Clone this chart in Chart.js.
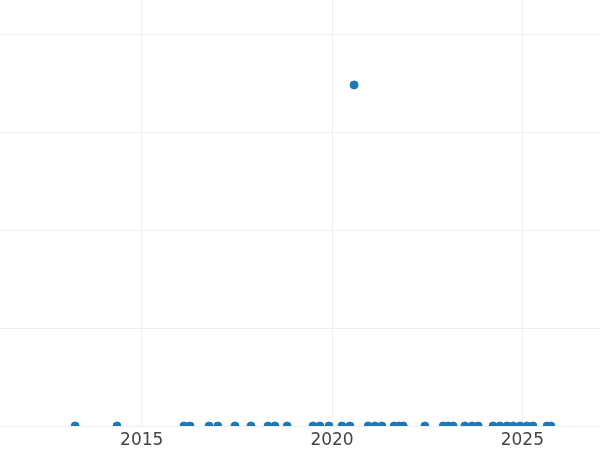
<!DOCTYPE html>
<html>
<head>
<meta charset="utf-8">
<script src="https://cdn.jsdelivr.net/npm/chart.js@4"></script>
<style>
html,body{margin:0;padding:0;background:#fff;}
#wrap{width:600px;height:450px;position:relative;}
</style>
</head>
<body>
<div id="wrap"><canvas id="c"></canvas></div>
<script>
// Decimal-year positions of the events and their values
const eventYears = [2013.25, 2014.35, 2016.11, 2016.27, 2016.77, 2017.00, 2017.45, 2017.87,
  2018.32, 2018.50, 2018.82, 2019.50, 2019.68, 2019.92, 2020.26, 2020.47, 2020.58,
  2020.95, 2021.13, 2021.31, 2021.63, 2021.76, 2021.87, 2022.44, 2022.92, 2023.05,
  2023.18, 2023.49, 2023.68, 2023.84, 2024.23, 2024.41, 2024.60, 2024.76, 2024.94,
  2025.12, 2025.28, 2025.65, 2025.75];
const eventValues = [0, 0, 0, 0, 0, 0, 0, 0,
  0, 0, 0, 0, 0, 0, 0, 0, 3.48,
  0, 0, 0, 0, 0, 0, 0, 0, 0,
  0, 0, 0, 0, 0, 0, 0, 0, 0,
  0, 0, 0, 0];
const xTickYears = [2015, 2020, 2025];
const yTickValues = [0, 1, 2, 3, 4];

const points = eventYears.map((x, i) => ({x: x, y: eventValues[i]}));

new Chart(document.getElementById('c'), {
  type: 'scatter',
  data: {
    datasets: [{
      data: points,
      backgroundColor: '#1f77b4',
      borderColor: '#1f77b4',
      borderWidth: 1,
      pointRadius: 4,
      pointHoverRadius: 4,
      clip: 0
    }]
  },
  options: {
    responsive: true,
    maintainAspectRatio: false,
    animation: false,
    layout: {padding: 0, autoPadding: false},
    plugins: {legend: {display: false}, tooltip: {enabled: false}},
    scales: {
      x: {
        type: 'linear',
        min: 2011.277,
        max: 2027.04,
        afterBuildTicks: s => { s.ticks = xTickYears.map(v => ({value: v})); },
        afterFit: s => { s.height = 24; },
        grid: {color: '#eeeeee', lineWidth: 1, drawTicks: false},
        border: {display: false},
        ticks: {
          padding: 11.5,
          color: '#444444',
          font: {family: 'DejaVu Sans', size: 17, lineHeight: 0.4},
          maxRotation: 0,
          callback: v => String(v)
        }
      },
      y: {
        type: 'linear',
        min: 0,
        max: 4.347,
        afterBuildTicks: s => { s.ticks = yTickValues.map(v => ({value: v})); },
        grid: {color: '#eeeeee', lineWidth: 1, drawTicks: false},
        border: {display: false},
        ticks: {display: false}
      }
    }
  }
});
</script>
</body>
</html>
